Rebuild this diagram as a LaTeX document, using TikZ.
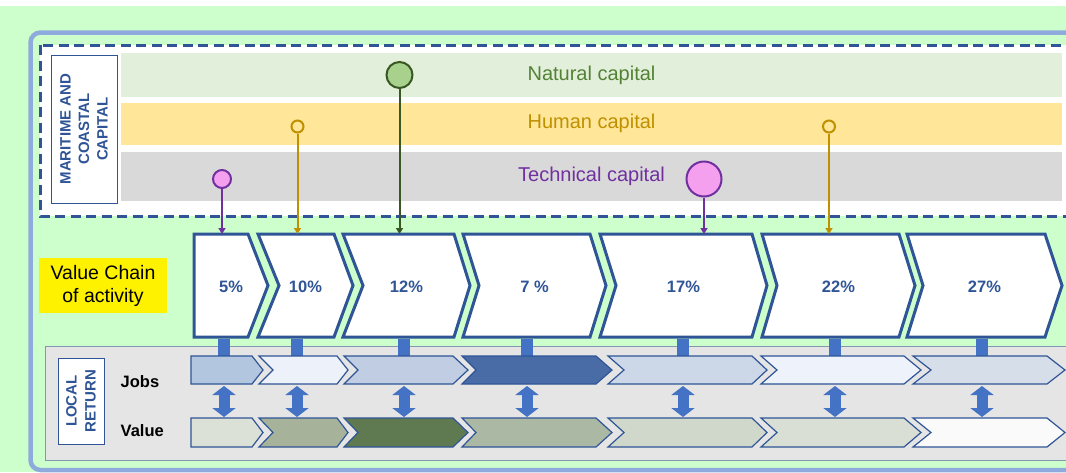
\documentclass[tikz,border=0pt]{standalone}
\usepackage{fontspec}
\setmainfont{Liberation Sans}
\usetikzlibrary{arrows.meta,positioning,calc}

\definecolor{bggreen}{HTML}{CCFFCC}
\definecolor{frameblue}{HTML}{8FAADC}
\definecolor{chevblue}{HTML}{2F5597}
\definecolor{barblue}{HTML}{4472C4}
\definecolor{retgray}{HTML}{E5E5E5}
\definecolor{retline}{HTML}{8497B0}
\definecolor{natfill}{HTML}{E2EFDA}
\definecolor{humfill}{HTML}{FFE699}
\definecolor{tecfill}{HTML}{D9D9D9}
\definecolor{natc}{HTML}{548235}
\definecolor{natdark}{HTML}{385723}
\definecolor{natdot}{HTML}{A9D18E}
\definecolor{humc}{HTML}{BF9000}
\definecolor{tecc}{HTML}{7030A0}
\definecolor{tecdot}{HTML}{F4A0EE}
\definecolor{job1}{HTML}{B3C6E0}
\definecolor{job2}{HTML}{EDF1F9}
\definecolor{job3}{HTML}{C0CDE3}
\definecolor{job4}{HTML}{4A6CA6}
\definecolor{job5}{HTML}{CCD7E8}
\definecolor{job6}{HTML}{EEF2FA}
\definecolor{job7}{HTML}{D6DEEA}
\definecolor{val1}{HTML}{DBE1D6}
\definecolor{val2}{HTML}{A6B39A}
\definecolor{val3}{HTML}{5F7A50}
\definecolor{val4}{HTML}{ABB8A3}
\definecolor{val5}{HTML}{CFD8CB}
\definecolor{val6}{HTML}{D9DFD4}
\definecolor{val7}{HTML}{FAFAFA}

\begin{document}
\begin{tikzpicture}[
    x=1pt, y=-1pt,
    capband/.style={minimum width=941pt, inner sep=0pt, font=\fontsize{20}{24}\selectfont},
    sidebox/.style={draw=chevblue, line width=1pt, fill=white, rotate=90, align=center, inner sep=0pt, text=chevblue, font=\bfseries\fontsize{15}{18.5}\selectfont},
    pct/.style={text=chevblue, font=\bfseries\fontsize{16.5}{19}\selectfont},
    rowlab/.style={anchor=west, inner sep=0pt, font=\bfseries\fontsize{16.5}{20}\selectfont},
    vchev/.style={draw=chevblue, line width=3pt, fill=white},
    rchev/.style={draw=chevblue, line width=1.2pt},
    capdot/.style={circle, line width=2pt, inner sep=0pt},
    capline/.style={line width=2pt, -{Triangle[length=6pt,width=7pt]}},
    bar/.style={draw=barblue, line width=12pt},
    updown/.style={draw=barblue, line width=11pt, {Triangle[length=9pt,width=23pt]}-{Triangle[length=9pt,width=23pt]}}
  ]
    \clip (0,0) rectangle (1066,472);

    % Background and frames
    \fill[white] (0,0) rectangle (1066,6);
    \fill[bggreen] (0,6) rectangle (1066,472);
    \draw[frameblue, line width=4.5pt, rounded corners=10pt] (30.5,32.5) rectangle (1100,470);
    \draw[chevblue, line width=3pt, dash pattern=on 10pt off 5.5pt, fill=white] (40,45) rectangle (1100,216);

    % Capital bands
    \node[sidebox, minimum width=148pt, minimum height=66pt] (mcc) at (84,129) {MARITIME AND\\COASTAL\\CAPITAL};
    \node[capband, fill=natfill, text=natc, minimum height=44pt] (nat) at (591.5,75) {Natural capital};
    \node[capband, fill=humfill, text=humc, minimum height=42pt] (hum) at (591.5,123.5) {Human capital};
    \node[capband, fill=tecfill, text=tecc, minimum height=49pt] (tec) at (591.5,176) {Technical capital};

    % Value chain label and local return box
    \node[fill=yellow, minimum width=128pt, minimum height=55pt, align=center, inner sep=0pt,
          font=\fontsize{19.5}{23}\selectfont] (vcl) at (103,285.5) {Value Chain\\of activity};
    \draw[retline, fill=retgray, line width=1pt] (45,346) rectangle (1100,460);
    \node[sidebox, minimum width=86pt, minimum height=46pt, font=\bfseries\fontsize{15}{19}\selectfont] (lr) at (81,401) {LOCAL\\RETURN};
    \node[rowlab] (jobs) at (120.5,382) {Jobs};
    \node[rowlab] (value) at (120.5,430.5) {Value};

    % Row levels
    \coordinate (vctop) at (0,234);
    \coordinate (jobtop) at (0,356);
    \coordinate (jobbot) at (0,386);
    \coordinate (valtop) at (0,417);

    % Value chain chevrons
    \foreach \i/\l/\n/\r/\t/\lab/\bx in {
        1/194/194/248/268/5\%/224,
        2/258/279/334/353/10\%/297,
        3/343/363/454/470/12\%/404,
        4/463/479/590/606/7 \%/527,
        5/600/616/752/767/17\%/683,
        6/762/777/899/915/22\%/835,
        7/907/923/1045/1062/27\%/982} {
      \coordinate (vb\i) at (\bx,338.5);
      \draw[bar] (vb\i) -- (vb\i |- jobtop);
      \draw[vchev] (\l,234) -- (\r,234) -- (\t,285.5) -- (\r,337) -- (\l,337) -- (\n,285.5) -- cycle;
      \node[pct] (vc\i) at ({(\l+\t)/2},287) {\lab};
    }

    % Jobs and value chevrons
    \foreach \i/\l/\n/\r/\t/\jc/\vc in {
        1/191/191/252/263/job1/val1,
        2/259/273/337/348/job2/val2,
        3/344/358/453/468/job3/val3,
        4/462/476/596/612/job4/val4,
        5/608/624/752/767/job5/val5,
        6/761/777/904/921/job6/val6,
        7/913/931/1047/1065/job7/val7} {
      \draw[rchev, fill=\jc] (\l,356) -- (\r,356) -- (\t,370) -- (\r,384) -- (\l,384) -- (\n,370) -- cycle;
      \draw[rchev, fill=\vc] (\l,418) -- (\r,418) -- (\t,432.5) -- (\r,447) -- (\l,447) -- (\n,432.5) -- cycle;
    }

    % Jobs <-> value
    \foreach \i in {1,...,7} {
      \draw[updown] (vb\i |- jobbot) -- (vb\i |- valtop);
    }

    % Capital inputs
    \node[capdot, draw=tecc, fill=tecdot, minimum size=18pt] (tc1) at (222,179) {};
    \node[capdot, draw=humc, fill=humfill, minimum size=12pt] (hc1) at (297.5,126.5) {};
    \node[capdot, draw=natdark, fill=natdot, minimum size=26pt] (nc1) at (399.5,75) {};
    \node[capdot, draw=tecc, fill=tecdot, minimum size=35pt] (tc2) at (704,179) {};
    \node[capdot, draw=humc, fill=humfill, minimum size=12pt] (hc2) at (829,126.5) {};
    \draw[capline, tecc] (tc1) -- (tc1 |- vctop);
    \draw[capline, humc] (hc1) -- (hc1 |- vctop);
    \draw[capline, natdark] (nc1) -- (nc1 |- vctop);
    \draw[capline, tecc] (tc2) -- (tc2 |- vctop);
    \draw[capline, humc] (hc2) -- (hc2 |- vctop);
\end{tikzpicture}
\end{document}
